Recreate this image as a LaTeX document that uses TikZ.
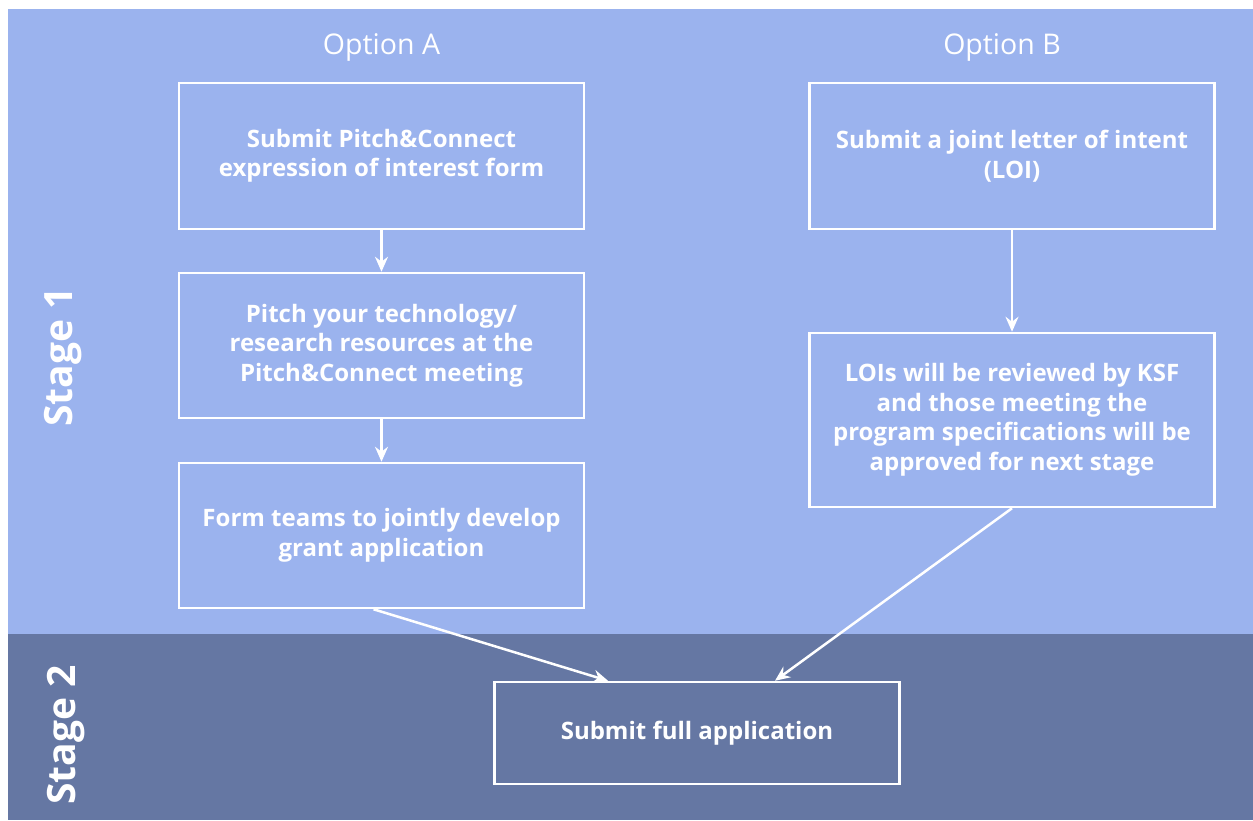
\documentclass[tikz,border=0pt]{standalone}
\usepackage{fontspec}
\setmainfont{Open Sans}
\usetikzlibrary{arrows.meta,positioning}
\definecolor{stageone}{HTML}{9BB3EE}
\definecolor{stagetwo}{HTML}{6577A3}

\begin{document}
\begin{tikzpicture}[x=1pt,y=-1pt,
    box/.style={draw=white, line width=2.5pt, minimum width=405pt, align=center, text=white,
      font=\bfseries\fontsize{24}{29.5}\selectfont},
    optlabel/.style={text=white, font=\fontsize{28.5}{32}\selectfont},
    stagelabel/.style={text=white, rotate=90, font=\bfseries\fontsize{39}{44}\selectfont},
    flow/.style={draw=white, line width=2.5pt, -{Stealth[length=15pt,width=13pt,inset=5pt]}}]
    % background bands
    \useasboundingbox (0,0) rectangle (1253,820);
    \fill[white] (0,0) rectangle (1253,820);
    \fill[stageone] (8,9) rectangle (1253,634);
    \fill[stagetwo] (8,634) rectangle (1253,820);

    \node[stagelabel] (stone) at (63,357) {Stage 1};
    \node[stagelabel] (sttwo) at (66,735) {Stage 2};

    \node[optlabel] (opta) at (381.5,47) {Option A};
    \node[optlabel] (optb) at (1002,47) {Option B};

    % option A
    \node[box, minimum height=146pt] (subpitch) at (381.5,156) {Submit Pitch\&Connect\\expression of interest form};
    \node[box, minimum height=145pt] (pitch) at (381.5,345.5) {Pitch your technology/\\research resources at the\\Pitch\&Connect meeting};
    \node[box, minimum height=145pt] (teams) at (381.5,535.5) {Form teams to jointly develop\\grant application};

    % option B
    \node[box, minimum height=146pt] (loi) at (1012,156) {Submit a joint letter of intent\\(LOI)};
    \node[box, minimum height=174pt] (review) at (1012,420) {LOIs will be reviewed by KSF\\and those meeting the\\program specifications will be\\approved for next stage};

    % stage 2
    \node[box, minimum height=102pt] (full) at (697,733) {Submit full application};

    \draw[flow] (subpitch) -- (pitch);
    \draw[flow] (pitch) -- (teams);
    \draw[flow] (loi) -- (review);
    \draw[flow] ([xshift=-8pt]teams.south) -- ([xshift=-89pt]full.north);
    \draw[flow] (review.south) -- ([xshift=78pt]full.north);
\end{tikzpicture}
\end{document}
